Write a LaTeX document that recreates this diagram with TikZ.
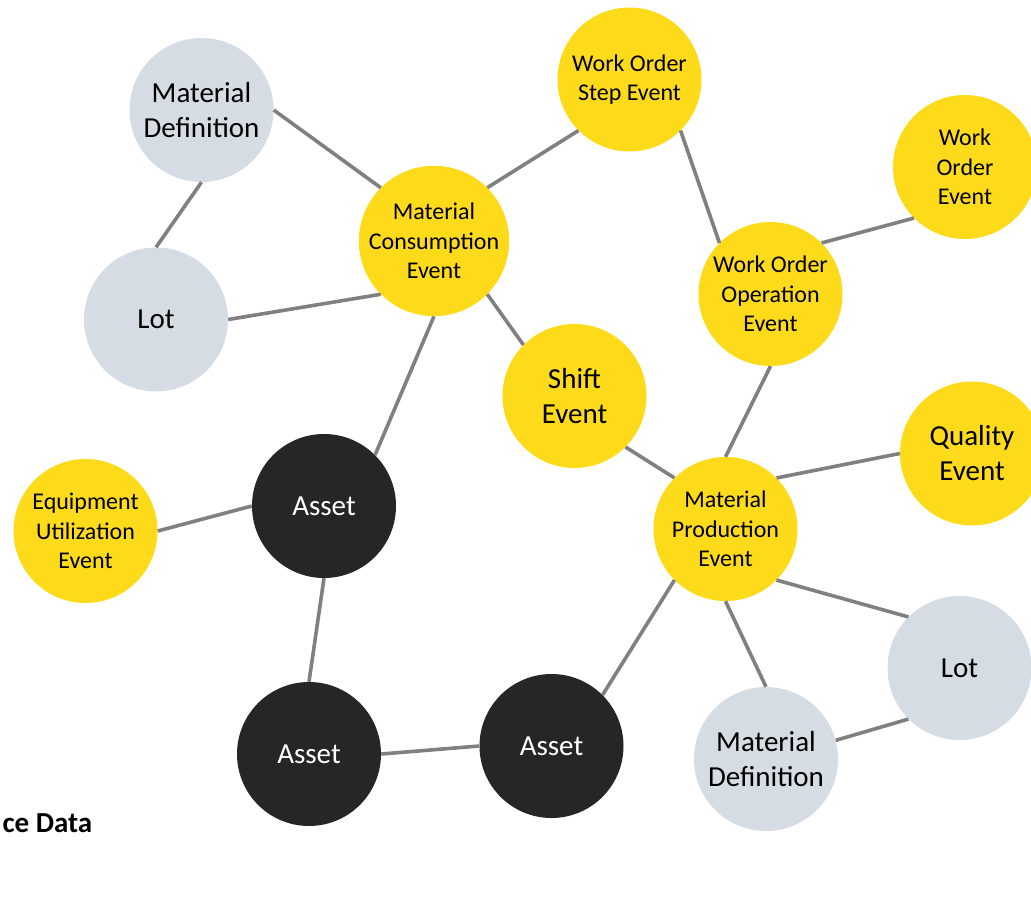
\documentclass[tikz,border=0pt]{standalone}
\usepackage{fontspec}
\setmainfont{Carlito}
\definecolor{evyellow}{RGB}{254,219,26}
\definecolor{infogrey}{RGB}{214,220,228}
\definecolor{assetblack}{RGB}{38,38,38}
\definecolor{linkgrey}{RGB}{128,128,128}
\begin{document}
\begin{tikzpicture}[x=1pt,y=-1pt,
  bubble/.style={circle, minimum size=144pt, inner sep=0pt, align=center},
  event/.style={bubble, fill=evyellow, font=\fontsize{24}{29.3}\selectfont},
  bigevent/.style={bubble, fill=evyellow, font=\fontsize{29}{35}\selectfont},
  info/.style={bubble, fill=infogrey, font=\fontsize{29}{35}\selectfont},
  asset/.style={bubble, fill=assetblack, text=white, font=\fontsize{29}{35}\selectfont},
  link/.style={draw=linkgrey, line width=3.6pt}]
\useasboundingbox (0,0) rectangle (1031,908);

\node[info] (md1) at (201.5,110) {Material\\Definition};
\node[info] (lot1) at (156,319.5) {Lot};
\node[event] (mc) at (434,241) {Material\\Consumption\\Event};

\node[event] (wos) at (629.5,79.5) {Work Order\\Step Event};
\node[event] (woe) at (965,167) {Work\\Order\\Event};
\node[event] (woo) at (770.5,294) {Work Order\\Operation\\Event};

\node[bigevent] (shift) at (574.5,396) {Shift\\Event};
\node[bigevent] (qe) at (972,453.5) {Quality\\Event};
\node[event] (mp) at (725.5,529) {Material\\Production\\Event};

\node[event] (eue) at (85.5,531) {Equipment\\Utilization\\Event};
\node[asset] (asset1) at (324,506) {Asset};
\node[asset] (asset2) at (309,754) {Asset};
\node[asset] (asset3) at (551.5,746) {Asset};

\node[info] (lot2) at (959.5,668) {Lot};
\node[info] (md2) at (766,759) {Material\\Definition};

\node[anchor=base east, font=\fontsize{29}{35}\selectfont\bfseries, inner sep=0pt] (label) at (92.5,832.5) {ce Data};

\path[link] (md1.0) -- (mc.135);
\path[link] (md1.270) -- (lot1.90);
\path[link] (lot1.0) -- (mc.225);
\path[link] (mc.45) -- (wos.225);
\path[link] (mc.315) -- (shift.135);
\path[link] (mc.270) -- (asset1.45);
\path[link] (wos.315) -- (woo.135);
\path[link] (woo.45) -- (woe.225);
\path[link] (woo.270) -- (mp.90);
\path[link] (shift.315) -- (mp.135);
\path[link] (mp.45) -- (qe.180);
\path[link] (mp.315) -- (lot2.135);
\path[link] (mp.270) -- (md2.90);
\path[link] (md2.15) -- (lot2.225);
\path[link] (mp.225) -- (asset3.45);
\path[link] (asset2.0) -- (asset3.180);
\path[link] (eue.0) -- (asset1.180);
\path[link] (asset1.270) -- (asset2.90);
\end{tikzpicture}
\end{document}
